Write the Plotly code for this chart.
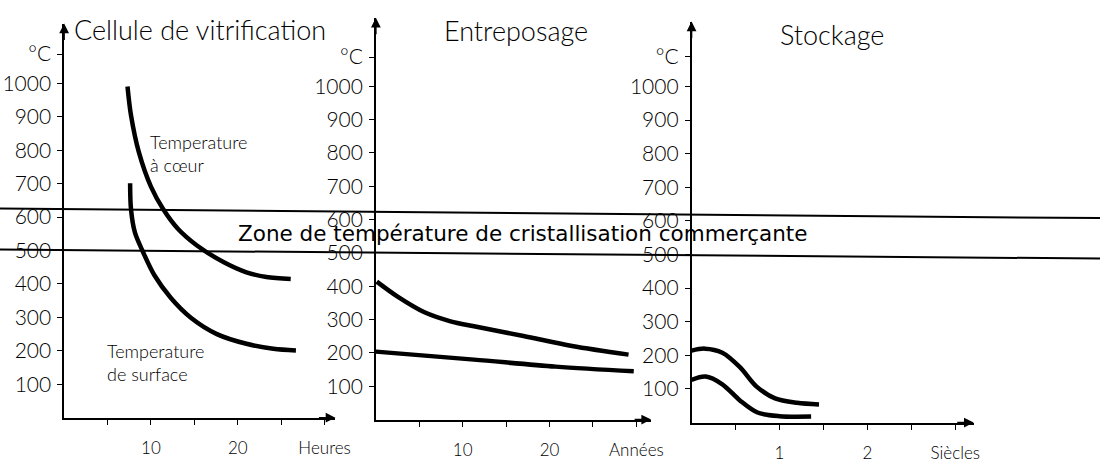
import plotly.graph_objects as go

W, H = 1115, 463

# ---- data -------------------------------------------------------------
panel_titles = ["Cellule de vitrification", "Entreposage", "Stockage"]

temp_ticks = [100, 200, 300, 400, 500, 600, 700, 800, 900, 1000]

# Cellule de vitrification (heures)
vit_core_h = [7.3, 7.7, 8.6, 10.0, 11.4, 13.1, 15.3, 18.4, 21.0, 23.3, 26.1]
vit_core_t = [991, 905, 795, 691, 624, 565, 515, 465, 435, 421, 415]
vit_surf_h = [7.6, 7.7, 8.15, 9.1, 10.4, 12.3, 14.6, 17.6, 21.0, 24.1, 26.7]
vit_surf_t = [701, 624, 554, 495, 426, 358, 299, 250, 221, 206, 201]

# Entreposage (années)
ent_core_y = [0.1, 2.5, 5.6, 8.6, 11.3, 17.0, 22.6, 29.1]
ent_core_t = [414, 369, 322, 295, 280, 251, 221, 195]
ent_surf_y = [0.0, 11.3, 20.7, 29.7]
ent_surf_t = [204, 180, 159, 145]

# Stockage (siècles)
sto_core_s = [0.0, 0.15, 0.35, 0.55, 0.74, 0.95, 1.2, 1.45]
sto_core_t = [214, 220, 208, 165, 107, 72, 59, 54]
sto_surf_s = [0.0, 0.16, 0.35, 0.55, 0.75, 1.0, 1.36]
sto_surf_t = [127, 137, 114, 66, 30, 19, 18]

# zone de cristallisation (°C, bords gauche / droit)
zone_top = [626, 597]
zone_bottom = [503, 476]

# graduations de temps
vit_ticks = [5, 10, 15, 20, 25, 30]
vit_labels = ["", "10", "", "20", "", "Heures"]
ent_ticks = [5, 10, 15, 20, 25, 30]
ent_labels = ["", "10", "", "20", "", "Années"]
sto_ticks = [0.5, 1, 1.5, 2, 2.5, 3]
sto_labels = ["", "1", "", "2", "", "Siècles"]

# ---- layout helpers -----------------------------------------------------
FONT = "Lato"


def px(x):
    return x / W


def py(y):
    return 1 - y / H


# (axis x px, right end px, x range max, baseline px, top px, y range max)
panels = [
    (65, 340, 31.25, 425, 24, 1179),
    (381, 660, 31.7, 427, 18, 1206),
    (701, 987, 3.21, 430, 22, 1193),
]
tickvals = [vit_ticks, ent_ticks, sto_ticks]
ticktexts = [vit_labels, ent_labels, sto_labels]

fig = go.Figure()

series = [
    (vit_core_h, vit_core_t, vit_surf_h, vit_surf_t),
    (ent_core_y, ent_core_t, ent_surf_y, ent_surf_t),
    (sto_core_s, sto_core_t, sto_surf_s, sto_surf_t),
]

for i, (cx, cy, sx, sy) in enumerate(series):
    xa = "x" if i == 0 else f"x{i+1}"
    ya = "y" if i == 0 else f"y{i+1}"
    for xs, ys in ((cx, cy), (sx, sy)):
        fig.add_trace(go.Scatter(
            x=xs, y=ys, xaxis=xa, yaxis=ya, mode="lines",
            line=dict(color="black", width=4.5, shape="spline", smoothing=0.9),
            hoverinfo="skip", showlegend=False,
        ))

layout = dict(
    width=W, height=H,
    margin=dict(l=0, r=0, t=0, b=0),
    paper_bgcolor="white", plot_bgcolor="rgba(0,0,0,0)",
    font=dict(family=FONT, color="black"),
    showlegend=False,
)

annotations = []
shapes = []

for i, (x0, x1, xmax, yb, yt, ymax) in enumerate(panels):
    suf = "" if i == 0 else str(i + 1)
    layout[f"xaxis{suf}"] = dict(
        domain=[px(x0), px(x1)], range=[0, xmax], anchor=f"y{suf}",
        showline=True, linecolor="black", linewidth=1.5,
        showgrid=False, zeroline=False,
        ticks="outside", ticklen=6, tickwidth=1.2, tickcolor="black",
        tickvals=tickvals[i], ticktext=ticktexts[i],
        tickfont=dict(family=FONT, size=17, color="black", weight=300),
        ticklabelstandoff=8,
    )
    layout[f"yaxis{suf}"] = dict(
        domain=[py(yb), py(yt)], range=[0, ymax], anchor=f"x{suf}",
        showline=True, linecolor="black", linewidth=1.5,
        showgrid=False, zeroline=False,
        ticks="outside", ticklen=5, tickwidth=1.2, tickcolor="black",
        tickvals=temp_ticks + [1088],
        ticktext=[str(v) for v in temp_ticks] + ["°C"],
        tickfont=dict(family=FONT, size=21, color="black", weight=300),
        ticklabelstandoff=2,
    )
    xr = "x" + suf
    yr = "y" + suf
    # arrow heads at the axis ends
    annotations.append(dict(
        x=0, y=ymax, xref=xr, yref=yr, ax=0, ay=18, axref="pixel", ayref="pixel",
        text="", showarrow=True, arrowhead=2, arrowsize=1.3, arrowwidth=1.5,
        arrowcolor="black",
    ))
    annotations.append(dict(
        x=xmax, y=0, xref=xr, yref=yr, ax=-18, ay=0, axref="pixel", ayref="pixel",
        text="", showarrow=True, arrowhead=2, arrowsize=1.3, arrowwidth=1.5,
        arrowcolor="black",
    ))

fig.update_layout(**layout)

# titles
title_pos = [(203, 30), (523, 31), (843, 35)]
for t, (tx, ty) in zip(panel_titles, title_pos):
    annotations.append(dict(
        x=px(tx), y=py(ty), xref="paper", yref="paper", text=t,
        showarrow=False, xanchor="center", yanchor="middle",
        font=dict(family=FONT, size=27, color="black", weight=300),
    ))

# curve labels
annotations.append(dict(
    x=px(150), y=py(156), xref="paper", yref="paper",
    text="Temperature<br>à cœur", align="left", showarrow=False,
    xanchor="left", yanchor="middle",
    font=dict(family=FONT, size=18, color="black", weight=300),
))
annotations.append(dict(
    x=px(106), y=py(369), xref="paper", yref="paper",
    text="Temperature<br>de surface", align="left", showarrow=False,
    xanchor="left", yanchor="middle",
    font=dict(family=FONT, size=18, color="black", weight=300),
))

# crystallisation band
for vals in (zone_top, zone_bottom):
    shapes.append(dict(
        type="line", xref="paper", yref="y", x0=0, x1=1, y0=vals[0], y1=vals[1],
        line=dict(color="black", width=2),
    ))
annotations.append(dict(
    x=px(530), y=py(238), xref="paper", yref="paper",
    text="Zone de température de cristallisation commerçante",
    showarrow=False, xanchor="center", yanchor="middle",
    font=dict(family="DejaVu Sans", size=21.5, color="black"),
))

fig.update_layout(annotations=annotations, shapes=shapes)

fig.write_html("out.html")
